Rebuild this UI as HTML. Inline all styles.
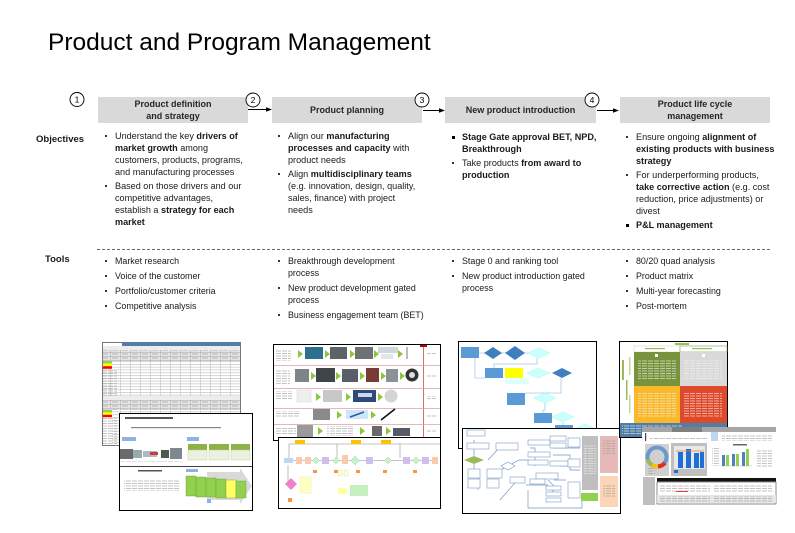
<!DOCTYPE html>
<html><head><meta charset="utf-8">
<style>
html,body{margin:0;padding:0;background:#fff;}
body{width:795px;height:533px;position:relative;overflow:hidden;font-family:"Liberation Sans",Arial,sans-serif;color:#1a1a1a;}
.title{position:absolute;left:48px;top:31px;font-size:24.5px;line-height:24.5px;white-space:nowrap;color:#000;}
.hdr{position:absolute;top:97px;height:26px;display:flex;align-items:center;justify-content:center;text-align:center;font-weight:bold;font-size:9px;line-height:12px;color:#262626;white-space:nowrap;}
.lbl{position:absolute;font-weight:bold;font-size:9.5px;line-height:12px;white-space:nowrap;}
.col{position:absolute;font-size:9.1px;line-height:12px;}
.col.t{font-size:8.9px;}
.it{position:relative;padding-left:11px;margin-bottom:2px;white-space:nowrap;}
.col.t .it{margin-bottom:3px;}
.it:before{content:"";position:absolute;left:1px;top:5px;width:2px;height:2px;background:#333;}
.it.bb:before{width:2.5px;height:2.5px;background:#000;}
b{font-weight:bold;}
</style></head>
<body>
<svg width="795" height="533" style="position:absolute;left:0;top:0" xmlns="http://www.w3.org/2000/svg">
<defs>
<pattern id="g1" width="10" height="2.8" patternUnits="userSpaceOnUse"><rect width="10" height="2.8" fill="#fff"/><path d="M0 0.3H10M0.3 0V2.8" stroke="#b8b8b8" stroke-width="0.5"/></pattern>
<pattern id="g2" width="10" height="4" patternUnits="userSpaceOnUse"><rect width="10" height="4" fill="#e4e4e4"/><path d="M0 0.3H10M0.3 0V4" stroke="#a8a8a8" stroke-width="0.5"/><path d="M2 2H8" stroke="#888" stroke-width="0.5"/></pattern>
<pattern id="tx" width="6" height="2.5" patternUnits="userSpaceOnUse"><path d="M0 1H5" stroke="#9a9a9a" stroke-width="0.6"/></pattern>
<pattern id="txw" width="6" height="2.5" patternUnits="userSpaceOnUse"><path d="M0 1H5" stroke="#f4f4f4" stroke-width="0.6"/></pattern>
</defs>

<rect x="98" y="97" width="150" height="26" fill="#d9d9d9"/>
<rect x="272" y="97" width="150" height="26" fill="#d9d9d9"/>
<rect x="445" y="97" width="151" height="26" fill="#d9d9d9"/>
<rect x="620" y="97" width="150" height="26" fill="#d9d9d9"/>

<line x1="248" y1="109.5" x2="267" y2="109.5" stroke="#000" stroke-width="1"/>
<polygon points="272,109.5 266,107.3 266,111.7" fill="#000"/>
<line x1="423" y1="110.5" x2="440" y2="110.5" stroke="#000" stroke-width="1"/>
<polygon points="445,110.5 439,108.3 439,112.7" fill="#000"/>
<line x1="597" y1="110.5" x2="614" y2="110.5" stroke="#000" stroke-width="1"/>
<polygon points="619,110.5 613,108.3 613,112.7" fill="#000"/>

<g font-family="Liberation Sans, Arial, sans-serif" font-size="8.5" text-anchor="middle" fill="#000">
<circle cx="77" cy="99.5" r="7" fill="#fff" stroke="#000" stroke-width="0.9"/><text x="77" y="102.5">1</text>
<circle cx="253" cy="100" r="7" fill="#fff" stroke="#000" stroke-width="0.9"/><text x="253" y="103">2</text>
<circle cx="422" cy="100" r="7" fill="#fff" stroke="#000" stroke-width="0.9"/><text x="422" y="103">3</text>
<circle cx="592" cy="100" r="7" fill="#fff" stroke="#000" stroke-width="0.9"/><text x="592" y="103">4</text>
</g>

<line x1="97" y1="249.5" x2="770" y2="249.5" stroke="#3a3a3a" stroke-width="0.8" stroke-dasharray="3,2"/>

<!-- Group 1 -->
<rect x="102.5" y="342.5" width="138" height="103" fill="#fff" stroke="#555" stroke-width="0.8"/>
<rect x="122" y="343" width="118" height="3" fill="#4a7ebb"/>
<rect x="103" y="346" width="137" height="4" fill="#ececec"/>
<rect x="103" y="350" width="137" height="11" fill="url(#g2)"/>
<rect x="112" y="361" width="128" height="8" fill="url(#g1)"/>
<rect x="103" y="361" width="9" height="2.6" fill="#92d050"/>
<rect x="103" y="363.6" width="9" height="2.6" fill="#ffff00"/>
<rect x="103" y="366.2" width="9" height="2.6" fill="#ff0000"/>
<rect x="103" y="369" width="137" height="27" fill="url(#g1)"/>
<rect x="103" y="369" width="14" height="27" fill="url(#tx)"/>
<rect x="103" y="396" width="137" height="4" fill="#ececec"/>
<rect x="103" y="400" width="137" height="10" fill="url(#g2)"/>
<rect x="103" y="410" width="9" height="2.4" fill="#92d050"/>
<rect x="103" y="412.4" width="9" height="2.4" fill="#ffff00"/>
<rect x="103" y="414.8" width="9" height="2.4" fill="#ff0000"/>
<rect x="112" y="410" width="128" height="35" fill="url(#g1)"/>
<rect x="103" y="417" width="14" height="28" fill="url(#tx)"/>

<rect x="119.5" y="413.5" width="133" height="97" fill="#fff" stroke="#000" stroke-width="1"/>
<rect x="125" y="417" width="48" height="2" fill="#555"/>
<rect x="131" y="427" width="90" height="1.2" fill="#888"/>
<rect x="122" y="437" width="14" height="4" fill="#8db3e2"/>
<rect x="187" y="437" width="12" height="4" fill="#8db3e2"/>
<rect x="120" y="449" width="13" height="10" fill="#6a6a6a"/>
<rect x="133" y="450" width="9" height="8" fill="#9aa"/>
<rect x="143" y="451" width="14" height="6" fill="#b0b8c0"/>
<rect x="150" y="452" width="8" height="3" fill="#c04040"/>
<rect x="161" y="450" width="8" height="8" fill="#4d5a50"/>
<rect x="170" y="448" width="12" height="11" fill="#7d8890"/>
<rect x="121" y="461" width="62" height="2" fill="url(#tx)"/>
<rect x="188" y="444" width="19" height="6" fill="#8fb248"/>
<rect x="188" y="450" width="19" height="10" fill="#ebf1de" stroke="#b4c88c" stroke-width="0.4"/>
<rect x="209" y="444" width="20" height="6" fill="#8fb248"/>
<rect x="209" y="450" width="20" height="10" fill="#ebf1de" stroke="#b4c88c" stroke-width="0.4"/>
<rect x="231" y="444" width="19" height="6" fill="#8fb248"/>
<rect x="231" y="450" width="19" height="10" fill="#ebf1de" stroke="#b4c88c" stroke-width="0.4"/>
<line x1="120" y1="466.5" x2="252" y2="466.5" stroke="#000" stroke-width="0.7"/>
<rect x="138" y="470" width="24" height="1.5" fill="#555"/>
<rect x="124" y="479" width="55" height="12" fill="url(#tx)"/>
<rect x="186" y="469" width="12" height="3" fill="#8db3e2"/>
<polygon points="207,472 240,472 240,468 252,486 240,504 240,500 207,500" fill="#d9d9d9"/>
<g fill="#92d050" stroke="#6f9a30" stroke-width="0.4">
<rect x="186" y="476" width="10" height="20"/>
<rect x="196" y="477" width="10" height="20"/>
<rect x="206" y="478" width="10" height="19"/>
<rect x="216" y="479" width="10" height="19"/>
<rect x="226" y="480" width="10" height="18" fill="#ffff66"/>
<rect x="236" y="481" width="10" height="17"/>
</g>
<rect x="207" y="499" width="4" height="4" fill="#8db3e2"/>

<!-- Group 2 -->
<rect x="273.5" y="344.5" width="167" height="96" fill="#fff" stroke="#000" stroke-width="1"/>
<line x1="423.5" y1="345" x2="423.5" y2="440" stroke="#c0504d" stroke-width="0.8"/>
<rect x="420" y="345" width="7" height="2" fill="#c00000"/>
<g stroke="#d8a0a0" stroke-width="0.7">
<line x1="274" y1="365.5" x2="440" y2="365.5"/>
<line x1="274" y1="388.5" x2="440" y2="388.5"/>
<line x1="274" y1="408.5" x2="440" y2="408.5"/>
<line x1="274" y1="424.5" x2="440" y2="424.5"/>
</g>
<g fill="url(#tx)">
<rect x="276" y="349" width="15" height="12"/>
<rect x="276" y="370" width="14" height="14"/>
<rect x="276" y="391" width="16" height="9"/>
<rect x="276" y="411" width="24" height="7"/>
<rect x="276" y="427" width="20" height="7"/>
<rect x="427" y="352" width="9" height="3"/>
<rect x="427" y="374" width="9" height="3"/>
<rect x="427" y="396" width="9" height="3"/>
<rect x="427" y="414" width="9" height="3"/>
<rect x="427" y="430" width="9" height="3"/>
</g>
<g fill="#8cc63f">
<polygon points="298,350 303,354 298,358"/><polygon points="325,350 330,354 325,358"/><polygon points="350,350 355,354 350,358"/><polygon points="374,350 379,354 374,358"/><polygon points="398,350 403,354 398,358"/>
<polygon points="311,372 316,376 311,380"/><polygon points="336,372 341,376 336,380"/><polygon points="360,372 365,376 360,380"/><polygon points="381,372 386,376 381,380"/><polygon points="400,372 405,376 400,380"/>
<polygon points="316,393 321,397 316,401"/><polygon points="346,393 351,397 346,401"/><polygon points="378,393 383,397 378,401"/>
<polygon points="337,411 342,415 337,419"/><polygon points="371,411 376,415 371,419"/>
<polygon points="318,427 323,431 318,435"/><polygon points="360,427 365,431 360,435"/><polygon points="386,427 391,431 386,435"/>
</g>
<rect x="305" y="347" width="18" height="12" fill="#2d6f8e"/>
<rect x="330" y="347" width="17" height="12" fill="#5d6468"/>
<rect x="355" y="347" width="18" height="12" fill="#6e7274"/>
<rect x="378" y="347" width="20" height="6" fill="#cfd6dc"/>
<rect x="381" y="354" width="12" height="5" fill="#e2e6ea"/>
<rect x="406" y="347" width="2" height="12" fill="#bbb"/>
<rect x="295" y="369" width="14" height="13" fill="#7f8488"/>
<rect x="316" y="368" width="19" height="14" fill="#3e4448"/>
<rect x="342" y="369" width="16" height="13" fill="#585f66"/>
<rect x="366" y="368" width="13" height="14" fill="#7a3a36"/>
<rect x="386" y="369" width="12" height="13" fill="#8a9296"/>
<circle cx="412" cy="375" r="6.5" fill="#333"/><circle cx="412" cy="375" r="3" fill="#ddd"/>
<rect x="297" y="390" width="14" height="12" fill="#eceff0" stroke="#ccc" stroke-width="0.4"/>
<rect x="323" y="390" width="19" height="12" fill="#c8c8c8"/>
<rect x="353" y="390" width="23" height="12" fill="#2e4a7a"/>
<rect x="358" y="393" width="14" height="4" fill="#d0d8e8"/>
<circle cx="391" cy="396" r="6.5" fill="#d4d4d4"/>
<rect x="313" y="409" width="17" height="11" fill="#8a8a8a"/>
<rect x="346" y="410" width="22" height="9" fill="#cfe6f8"/>
<line x1="350" y1="417" x2="364" y2="412" stroke="#2b5aa0" stroke-width="1.5"/>
<line x1="381" y1="420" x2="395" y2="409" stroke="#111" stroke-width="1.6"/>
<rect x="297" y="425" width="16" height="12" fill="#9a9a9a"/>
<rect x="327" y="426" width="26" height="10" fill="url(#tx)"/>
<rect x="372" y="426" width="10" height="10" fill="#6a6a6a"/>
<rect x="393" y="428" width="17" height="8" fill="#555c68"/>

<rect x="278.5" y="437.5" width="162" height="71" fill="#fff" stroke="#000" stroke-width="1"/>
<g stroke="#b0b0b0" stroke-width="0.8" fill="none">
<path d="M289 458V444H337V458"/>
<path d="M337 444H400V458"/>
<path d="M400 444H440"/>
<path d="M284 460.5H438"/>
<path d="M288 465V484H285"/>
</g>
<rect x="295" y="440" width="10" height="4" fill="#ffc000"/>
<rect x="351" y="440" width="10" height="4" fill="#ffc000"/>
<rect x="381" y="440" width="10" height="4" fill="#ffc000"/>
<rect x="284" y="458" width="9" height="5" fill="#bdd7ee"/>
<rect x="296" y="457" width="6" height="7" fill="#f8cbad"/>
<rect x="305" y="457" width="6" height="7" fill="#f8cbad"/>
<polygon points="316,457 319.5,460.5 316,464 312.5,460.5" fill="#c6efce" stroke="#8c8" stroke-width="0.3"/>
<rect x="322" y="457" width="7" height="7" fill="#ccc0f0"/>
<polygon points="336,457 339.5,460.5 336,464 332.5,460.5" fill="#c6efce" stroke="#8c8" stroke-width="0.3"/>
<rect x="342" y="455" width="6" height="9" fill="#f8cbad"/>
<polygon points="355,456 359.5,460.5 355,465 350.5,460.5" fill="#c6efce" stroke="#8c8" stroke-width="0.3"/>
<rect x="366" y="457" width="7" height="7" fill="#ccc0f0"/>
<polygon points="388,457 391.5,460.5 388,464 384.5,460.5" fill="#c6efce" stroke="#8c8" stroke-width="0.3"/>
<rect x="403" y="457" width="7" height="7" fill="#ccc0f0"/>
<polygon points="416,457 419.5,460.5 416,464 412.5,460.5" fill="#c6efce" stroke="#8c8" stroke-width="0.3"/>
<rect x="422" y="457" width="7" height="7" fill="#ccc0f0"/>
<rect x="432" y="457" width="6" height="7" fill="#f8cbad"/>
<g fill="#f79646">
<rect x="313" y="470" width="4" height="3"/><rect x="334" y="470" width="4" height="3"/><rect x="356" y="470" width="4" height="3"/><rect x="383" y="470" width="4" height="3"/><rect x="413" y="470" width="4" height="3"/>
<rect x="288" y="498" width="4" height="4"/>
</g>
<polygon points="291,478 297,484 291,490 285,484" fill="#ee82c8"/>
<rect x="300" y="477" width="11" height="16" fill="#ffffc0" stroke="#dd9" stroke-width="0.3"/>
<rect x="338" y="470" width="4" height="6" fill="#ffffd0" stroke="#cc9" stroke-width="0.3"/>
<rect x="344" y="470" width="4" height="6" fill="#ffffd0" stroke="#cc9" stroke-width="0.3"/>
<rect x="338" y="488" width="9" height="6" fill="#ffffa0"/>
<rect x="350" y="485" width="18" height="11" fill="#c6efc0"/>

<!-- Group 3 -->
<rect x="458.5" y="341.5" width="138" height="107" fill="#fff" stroke="#000" stroke-width="1"/>
<g stroke="#a8c8e8" stroke-width="0.8" fill="none">
<path d="M478 353H540M537 358V364H494V368M527 373H550M561 378V393H525M545 403V410H543V413M563 422V426H572M475 358V378H485"/>
</g>
<rect x="461" y="347" width="18" height="11" fill="#5b9bd5"/>
<polygon points="493,347 502,353 493,359 484,353" fill="#3f7fbf"/>
<polygon points="515,346 525,353 515,360 505,353" fill="#3f7fbf"/>
<polygon points="539,348 550,353 539,358 528,353" fill="#ccffff" stroke="#8fd" stroke-width="0.4"/>
<rect x="485" y="368" width="18" height="10" fill="#5b9bd5"/>
<rect x="505" y="368" width="18" height="10" fill="#ffff00"/>
<rect x="505" y="378" width="24" height="6" fill="#dff"/>
<polygon points="538,368 549,373 538,378 527,373" fill="#ccffff" stroke="#8fd" stroke-width="0.4"/>
<polygon points="562,368 572,373 562,378 552,373" fill="#3f7fbf"/>
<rect x="507" y="393" width="18" height="12" fill="#5b9bd5"/>
<polygon points="545,393 556,398 545,403 534,398" fill="#ccffff" stroke="#8fd" stroke-width="0.4"/>
<rect x="534" y="413" width="18" height="10" fill="#5b9bd5"/>
<polygon points="563,412 574,417 563,422 552,417" fill="#ccffff" stroke="#8fd" stroke-width="0.4"/>
<rect x="555" y="425" width="18" height="12" fill="#5b9bd5"/>
<polygon points="585,424 594,428 585,432 576,428" fill="#ccffff" stroke="#8fd" stroke-width="0.4"/>

<rect x="462.5" y="428.5" width="158" height="85" fill="#fff" stroke="#000" stroke-width="1"/>
<g stroke="#6f98c8" stroke-width="0.7" fill="none">
<path d="M474 440V456M474 464V470M488 460L500 447M478 476V490M487 476H496M497 472L519 460H530M530 448H535V466M550 443H553M553 448H580M553 455H570V470H580M560 466L580 466M526 485H548M548 480L556 488L548 496M528 490V508H582V500M519 478L500 500M554 480H566"/>
</g>
<g fill="#fff" stroke="#7a9cc8" stroke-width="0.6">
<rect x="467" y="430" width="18" height="6"/>
<rect x="467" y="443" width="22" height="6"/>
<rect x="496" y="443" width="22" height="7"/>
<rect x="468" y="469" width="12" height="9"/>
<rect x="468" y="479" width="12" height="9"/>
<rect x="487" y="469" width="15" height="9"/>
<rect x="487" y="479" width="12" height="9"/>
<rect x="528" y="440" width="22" height="5"/>
<rect x="550" y="436" width="16" height="5"/>
<rect x="550" y="443" width="16" height="5"/>
<rect x="568" y="438" width="12" height="9"/>
<rect x="528" y="452" width="22" height="5"/>
<rect x="528" y="460" width="20" height="5"/>
<rect x="550" y="461" width="18" height="5"/>
<rect x="568" y="459" width="12" height="8"/>
<rect x="536" y="473" width="22" height="6"/>
<rect x="510" y="477" width="15" height="6"/>
<rect x="530" y="479" width="15" height="5"/>
<rect x="546" y="486" width="15" height="4"/>
<rect x="546" y="492" width="15" height="4"/>
<rect x="546" y="498" width="15" height="4"/>
<rect x="568" y="482" width="12" height="16"/>
</g>
<polygon points="508,462 515,466 508,470 501,466" fill="#fff" stroke="#7a9cc8" stroke-width="0.6"/>
<polygon points="474,456 484,460 474,464 464,460" fill="#9bbb59"/>
<rect x="582" y="436" width="16" height="54" fill="#bfbfbf"/>
<rect x="584" y="445" width="12" height="30" fill="url(#txw)"/>
<rect x="581" y="493" width="17" height="8" fill="#92d050"/>
<rect x="600" y="436" width="18" height="37" fill="#e6b9b8"/>
<rect x="600" y="476" width="18" height="31" fill="#fbd5b5"/>
<rect x="603" y="440" width="12" height="15" fill="url(#tx)"/>
<rect x="603" y="485" width="12" height="12" fill="url(#tx)"/>

<!-- Group 4 -->
<rect x="619.5" y="341.5" width="108" height="96" fill="#fff" stroke="#000" stroke-width="1"/>
<rect x="675" y="343" width="14" height="2" fill="#9bbb59"/>
<rect x="634" y="346" width="46" height="6" fill="#fff" stroke="#c4d79b" stroke-width="0.5"/>
<rect x="680" y="346" width="47" height="6" fill="#fff" stroke="#7f9f5f" stroke-width="0.6"/>
<rect x="645" y="348" width="20" height="1.2" fill="#9bbb59"/>
<rect x="692" y="348" width="20" height="1.2" fill="#9bbb59"/>
<rect x="634" y="352" width="46" height="34" fill="#77933c"/>
<rect x="680" y="352" width="47" height="34" fill="#d9d9d9"/>
<rect x="634" y="386" width="46" height="37" fill="#fbb829"/>
<rect x="680" y="386" width="47" height="37" fill="#e0482a"/>
<rect x="638" y="360" width="38" height="20" fill="url(#txw)"/>
<rect x="684" y="360" width="38" height="20" fill="url(#txw)"/>
<rect x="638" y="393" width="38" height="25" fill="url(#txw)"/>
<rect x="684" y="393" width="38" height="25" fill="url(#txw)"/>
<rect x="655" y="354" width="3" height="3" fill="#fff"/>
<rect x="702" y="354" width="3" height="3" fill="#fff"/>
<rect x="622" y="360" width="2" height="20" fill="#9bbb59"/>
<rect x="626" y="380" width="1.5" height="20" fill="#9bbb59"/>
<rect x="629" y="357" width="1.5" height="18" fill="#c4d79b"/>
<rect x="629" y="395" width="1.5" height="18" fill="#c4d79b"/>
<rect x="620" y="423" width="107" height="14" fill="#4f7fa8"/>
<rect x="622" y="425" width="60" height="10" fill="url(#txw)"/>

<rect x="642" y="427" width="134" height="78" fill="#fff"/>
<rect x="642" y="427" width="134" height="5" fill="#a6a6a6"/>
<rect x="672" y="427" width="30" height="5" fill="#7f7f7f"/>
<rect x="645" y="433" width="1.2" height="8" fill="#444"/>
<rect x="650" y="437" width="58" height="2" fill="url(#tx)"/>
<rect x="711" y="432" width="7" height="12" fill="#bdd7ee"/>
<rect x="722" y="434" width="50" height="8" fill="url(#tx)"/>
<rect x="645" y="444" width="24" height="32" fill="#d0d0d0"/>
<circle cx="657" cy="457" r="9.5" fill="none" stroke="#6a98d0" stroke-width="4"/>
<path d="M648 459 A9.5 9.5 0 0 0 652 465" fill="none" stroke="#9bbb59" stroke-width="4"/>
<path d="M652 465 A9.5 9.5 0 0 0 658 466.5" fill="none" stroke="#ffc000" stroke-width="4"/>
<path d="M658 466.5 A9.5 9.5 0 0 0 665 463" fill="none" stroke="#e03020" stroke-width="4"/>
<rect x="647" y="468" width="8" height="6" fill="url(#tx)"/>
<rect x="671" y="443" width="36" height="33" fill="#bfbfbf"/>
<rect x="674" y="446" width="31" height="23" fill="#e8e8e8"/>
<rect x="678" y="452" width="5" height="16" fill="#1f6fd8"/>
<rect x="686" y="449" width="5" height="19" fill="#1f6fd8"/>
<rect x="694" y="453" width="5" height="15" fill="#1f6fd8"/>
<rect x="700" y="452" width="4" height="16" fill="#1f6fd8"/>
<line x1="676" y1="451" x2="704" y2="451" stroke="#f08030" stroke-width="0.8"/>
<rect x="674" y="470" width="4" height="3" fill="#1f6fd8"/>
<rect x="710" y="441" width="66" height="35" fill="#fff"/>
<rect x="733" y="444" width="14" height="1.5" fill="#666"/>
<line x1="721" y1="466" x2="752" y2="466" stroke="#bbb" stroke-width="0.5"/>
<rect x="722" y="455" width="3" height="11" fill="#4f81bd"/>
<rect x="726" y="455" width="3" height="11" fill="#92d050"/>
<rect x="732" y="454" width="3" height="12" fill="#4f81bd"/>
<rect x="736" y="454" width="3" height="12" fill="#92d050"/>
<rect x="742" y="452" width="3" height="14" fill="#4f81bd"/>
<rect x="746" y="449" width="3" height="17" fill="#92d050"/>
<rect x="712" y="448" width="8" height="18" fill="url(#tx)"/>
<rect x="757" y="450" width="15" height="18" fill="url(#tx)"/>
<rect x="643" y="477" width="12" height="28" fill="#bfbfbf"/>
<rect x="657" y="478" width="119" height="3.5" fill="#111"/>
<rect x="657" y="482" width="119" height="22" fill="#fff" stroke="#444" stroke-width="0.6"/>
<rect x="657" y="495" width="119" height="8" fill="#e6e6e6"/>
<rect x="660" y="484" width="50" height="8" fill="url(#tx)"/>
<rect x="714" y="484" width="58" height="8" fill="url(#tx)"/>
<rect x="660" y="496" width="50" height="6" fill="url(#tx)"/>
<rect x="714" y="496" width="58" height="6" fill="url(#tx)"/>
<rect x="676" y="491" width="12" height="1" fill="#e04040"/>
</svg>

<div class="title">Product and Program Management</div>

<div class="hdr" style="left:98px;width:150px;">Product definition<br>and strategy</div>
<div class="hdr" style="left:272px;width:150px;">Product planning</div>
<div class="hdr" style="left:445px;width:151px;">New product introduction</div>
<div class="hdr" style="left:620px;width:150px;">Product life cycle<br>management</div>

<div class="lbl" style="left:36px;top:134px;">Objectives</div>
<div class="lbl" style="left:45px;top:254px;">Tools</div>

<div class="col" style="left:104px;top:130px;">
<div class="it">Understand the key <b>drivers of</b><br><b>market growth</b> among<br>customers, products, programs,<br>and manufacturing processes</div>
<div class="it">Based on those drivers and our<br>competitive advantages,<br>establish a <b>strategy for each</b><br><b>market</b></div>
</div>
<div class="col" style="left:277px;top:130px;">
<div class="it">Align our <b>manufacturing</b><br><b>processes and capacity</b> with<br>product needs</div>
<div class="it">Align <b>multidisciplinary teams</b><br>(e.g. innovation, design, quality,<br>sales, finance) with project<br>needs</div>
</div>
<div class="col" style="left:451px;top:131px;">
<div class="it bb"><b>Stage Gate approval BET, NPD,</b><br><b>Breakthrough</b></div>
<div class="it">Take products <b>from award to</b><br><b>production</b></div>
</div>
<div class="col" style="left:625px;top:131px;">
<div class="it">Ensure ongoing <b>alignment of</b><br><b>existing products with business</b><br><b>strategy</b></div>
<div class="it">For underperforming products,<br><b>take corrective action</b> (e.g. cost<br>reduction, price adjustments) or<br>divest</div>
<div class="it bb"><b>P&amp;L management</b></div>
</div>

<div class="col t" style="left:104px;top:255px;">
<div class="it">Market research</div>
<div class="it">Voice of the customer</div>
<div class="it">Portfolio/customer criteria</div>
<div class="it">Competitive analysis</div>
</div>
<div class="col t" style="left:277px;top:255px;">
<div class="it">Breakthrough development<br>process</div>
<div class="it">New product development gated<br>process</div>
<div class="it">Business engagement team (BET)</div>
</div>
<div class="col t" style="left:451px;top:255px;">
<div class="it">Stage 0 and ranking tool</div>
<div class="it">New product introduction gated<br>process</div>
</div>
<div class="col t" style="left:625px;top:255px;">
<div class="it">80/20 quad analysis</div>
<div class="it">Product matrix</div>
<div class="it">Multi-year forecasting</div>
<div class="it">Post-mortem</div>
</div>
</body></html>
